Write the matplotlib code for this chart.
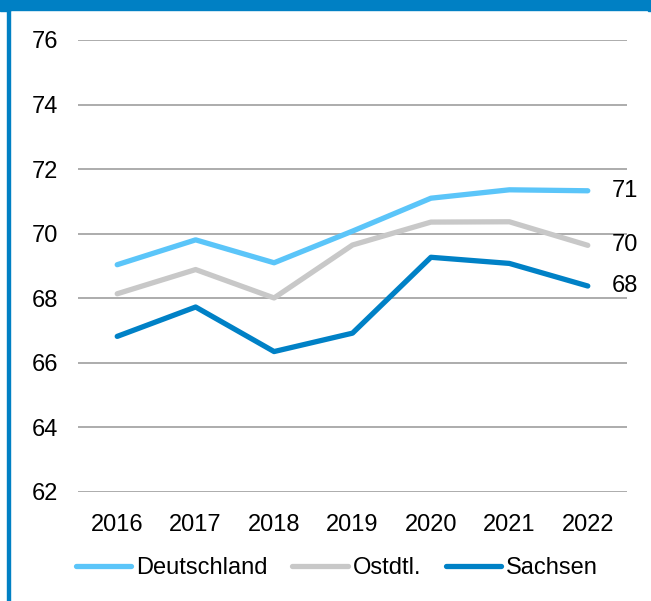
import matplotlib
matplotlib.use("Agg")
from matplotlib import pyplot as plt
from matplotlib.patches import Rectangle

years = ["2016", "2017", "2018", "2019", "2020", "2021", "2022"]
deutschland = [69.04, 69.81, 69.10, 70.08, 71.10, 71.36, 71.33]
ostdtl = [68.14, 68.89, 68.01, 69.65, 70.36, 70.37, 69.64]
sachsen = [66.82, 67.73, 66.35, 66.92, 69.27, 69.08, 68.38]
yticks = [62, 64, 66, 68, 70, 72, 74, 76]

plt.rcParams['font.family'] = ['Liberation Sans', 'DejaVu Sans']

W, H = 651, 601
fs = 17
fig = plt.figure(figsize=(W / 100, H / 100), dpi=100)

# axes box in pixels: x 78..627, y 40..492 (from top)
ax = fig.add_axes([78 / W, (H - 492) / H, (627 - 78) / W, 452 / H])

series = [
    ("Deutschland", deutschland, "#5BC5F9"),
    ("Ostdtl.", ostdtl, "#C8C8C8"),
    ("Sachsen", sachsen, "#0081C6"),
]
x = list(range(len(years)))
for name, vals, col in series:
    ax.plot(x, vals, color=col, lw=3.8, label=name, solid_capstyle='round', zorder=3)
    ax.annotate(f"{vals[-1]:.0f}", (x[-1], vals[-1]), xytext=(17, 0),
                textcoords='offset points', va='center', ha='left',
                fontsize=fs, color='black', annotation_clip=False)

ax.set_xlim(-0.5, len(years) - 0.5)
ax.set_ylim(62, 76)
ax.set_yticks(yticks)
ax.set_xticks(x)
ax.set_xticklabels(years)
ax.yaxis.grid(True, color='#A6A6A6', lw=1.3, zorder=0)
for s in ax.spines.values():
    s.set_visible(False)
ax.tick_params(axis='both', length=0, labelsize=fs, colors='black')
ax.tick_params(axis='y', pad=14.5)
ax.tick_params(axis='x', pad=15.5)

fig.legend(loc='center', bbox_to_anchor=(337 / W, (H - 568) / H), ncol=3,
           frameon=False, fontsize=fs, handlelength=2.35, handletextpad=0.2,
           columnspacing=1.05)

# blue frame: top bar and left line
blue = "#0080C4"
fig.patches.append(Rectangle((0, (H - 10) / H), 1, 10 / H, color=blue,
                             transform=fig.transFigure, figure=fig))
fig.patches.append(Rectangle((0, (H - 11) / H), 10 / W, 11 / H, color=blue,
                             transform=fig.transFigure, figure=fig))
fig.patches.append(Rectangle((648 / W, (H - 11) / H), 3 / W, 11 / H, color=blue,
                             transform=fig.transFigure, figure=fig))
fig.patches.append(Rectangle((7 / W, 0), 2.5 / W, 1, color=blue,
                             transform=fig.transFigure, figure=fig))

fig.savefig("out.png", dpi=100)
